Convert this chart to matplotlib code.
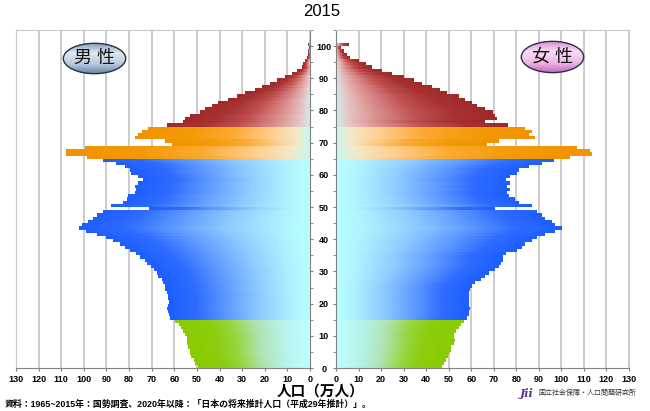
import numpy as np
import matplotlib
matplotlib.use("Agg")
import matplotlib.pyplot as plt
from matplotlib.colors import LinearSegmentedColormap
from matplotlib.patches import Ellipse

plt.rcParams['font.family'] = ['Liberation Sans', 'Noto Sans CJK JP', 'DejaVu Sans']

# =============================================================================
# Data: 2015 population by single year of age (10,000 persons), age 100 = 100+
# =============================================================================
ages = np.arange(0, 101)

male = [49.5, 51.0, 51.5, 52.5, 53.0, 53.0, 54.0, 54.5, 54.5, 54.6,
        55.3, 56.0, 57.0, 58.0, 59.5, 62.0, 62.5, 63.0, 63.4, 63.0,
        62.5, 63.0, 63.0, 63.4, 64.0, 64.0, 65.0, 65.6, 67.0, 67.8,
        69.0, 70.5, 72.0, 73.0, 75.0, 77.0, 79.6, 82.0, 84.0, 87.0,
        90.0, 94.0, 99.0, 102.0, 101.0, 98.0, 96.0, 94.0, 91.5, 71.0,
        88.0, 82.6, 81.0, 80.5, 77.4, 77.0, 77.4, 76.0, 73.7, 76.0,
        79.0, 79.6, 82.0, 86.0, 91.5, 98.8, 107.7, 107.7, 99.6, 61.0,
        64.0, 77.4, 76.0, 74.5, 71.5, 63.4, 56.0, 55.3, 53.0, 48.7,
        46.5, 43.5, 40.6, 36.2, 32.4, 28.8, 24.3, 21.4, 17.7, 14.7,
        11.0, 8.1, 5.9, 3.7, 3.0, 2.2, 1.5, 1.0, 0.8, 0.6,
        0.8]

female = [46.9, 47.6, 48.6, 49.5, 50.1, 50.6, 51.0, 52.0, 52.5, 52.0,
          52.0, 52.8, 54.3, 55.4, 56.5, 58.0, 58.7, 59.0, 59.4, 58.7,
          58.7, 59.0, 58.7, 58.7, 59.4, 60.2, 61.6, 63.9, 66.1, 67.6,
          70.5, 72.0, 73.2, 73.8, 74.0, 75.0, 80.0, 82.3, 83.8, 86.8,
          89.0, 92.7, 97.1, 100.0, 97.0, 95.6, 92.7, 91.2, 89.0, 70.5,
          86.8, 80.9, 79.4, 76.4, 75.7, 77.2, 75.7, 77.2, 75.0, 77.2,
          80.0, 80.9, 85.3, 91.2, 96.4, 103.8, 113.4, 112.6, 106.7, 66.8,
          72.0, 88.0, 85.5, 86.8, 83.8, 76.1, 66.1, 71.3, 70.5, 69.5,
          66.1, 62.4, 60.2, 57.2, 54.3, 49.1, 46.1, 42.4, 38.0, 34.3,
          29.9, 24.7, 20.3, 15.8, 12.9, 9.9, 6.2, 4.7, 3.3, 2.2,
          5.5]

x_ticks = np.arange(0, 131, 10)
age_ticks = np.arange(0, 101, 10)

# gradient fills: inner (age axis) -> outer end of bar
cmaps = {
    'young': LinearSegmentedColormap.from_list('young', [
        (0, '#BFFFFF'), (0.2, '#B8F4EC'), (0.4, '#B0E4B8'), (0.6, '#98D640'),
        (0.75, '#8CCE10'), (1, '#88CC00')]),
    'work': LinearSegmentedColormap.from_list('work', [
        (0, '#B8FFFF'), (0.12, '#B0F4FF'), (0.35, '#90CCFF'), (0.6, '#5C98FF'),
        (0.8, '#2E6CFF'), (1, '#1E5EFF')]),
    'old1': LinearSegmentedColormap.from_list('old1', [
        (0, '#C8F8F0'), (0.08, '#F4E8C8'), (0.22, '#FFD090'), (0.45, '#FBAA30'),
        (0.7, '#F59A08'), (1, '#F39200')]),
    'old2': LinearSegmentedColormap.from_list('old2', [
        (0, '#D0ECEC'), (0.08, '#E8C4C4'), (0.25, '#DC9090'), (0.5, '#C05050'),
        (0.75, '#A83232'), (1, '#A02828')]),
}


def age_group(a):
    if a < 15:
        return 'young'
    if a < 65:
        return 'work'
    if a < 75:
        return 'old1'
    return 'old2'


grad = np.linspace(0, 1, 256).reshape(1, -1)

# =============================================================================
# Figure
# =============================================================================
fig = plt.figure(figsize=(6.5, 4.11), dpi=100)
ax_l = fig.add_axes([16 / 650, 43 / 411, 294 / 650, 338 / 411])
ax_r = fig.add_axes([336 / 650, 43 / 411, 293 / 650, 338 / 411])


def draw_side(ax, values):
    bars = ax.barh(ages, values, height=1.0, align='edge', color='none', edgecolor='none', zorder=1)
    for a, bar in zip(ages, bars):
        x0, y0 = bar.get_x(), bar.get_y()
        w, h = bar.get_width(), bar.get_height()
        im = ax.imshow(grad, cmap=cmaps[age_group(a)], extent=[x0, x0 + w, y0, y0 + h],
                       aspect='auto', interpolation='bilinear', zorder=2)
        im.set_clip_path(bar)


draw_side(ax_l, male)
draw_side(ax_r, female)

grid_c = '#C8C8C8'
axis_c = '#808080'
for ax in (ax_l, ax_r):
    ax.set_ylim(0, 105)
    ax.set_xticks(x_ticks)
    ax.set_xticklabels([str(v) for v in x_ticks], fontsize=6.5, fontweight='bold')
    ax.xaxis.grid(True, color=grid_c, lw=1.3)
    ax.set_axisbelow(True)
    ax.tick_params(axis='x', length=2, pad=3, color=axis_c)
    ax.set_yticks(age_ticks)
    ax.set_yticks(np.arange(5, 106, 10), minor=True)
    ax.tick_params(axis='y', which='both', length=2, direction='out', color=axis_c)
    ax.spines['top'].set_color(grid_c)
    ax.spines['bottom'].set_color(axis_c)

ax_l.set_xlim(130, 0)
ax_r.set_xlim(0, 130)

# age labels sit between the two panels
ax_l.yaxis.tick_right()
ax_l.set_yticklabels([str(v) for v in age_ticks], fontsize=6.5, fontweight='bold', ha='center')
ax_l.tick_params(axis='y', which='major', pad=8)
ax_l.spines['left'].set_color(grid_c)
ax_l.spines['right'].set_color(axis_c)

ax_r.tick_params(axis='y', which='both', labelleft=False)
ax_r.spines['right'].set_color(grid_c)
ax_r.spines['left'].set_color(axis_c)

# =============================================================================
# Text
# =============================================================================
fig.text(322 / 650, 1 - 11 / 411, '2015', ha='center', va='center', fontsize=12)
fig.text(321 / 650, 1 - 392 / 411, '人口（万人）', ha='center', va='center',
         fontsize=10.5, fontweight='bold')
fig.text(5 / 650, 1 - 404 / 411,
         '資料：1965~2015年：国勢調査、2020年以降：「日本の将来推計人口（平成29年推計）」。',
         ha='left', va='center', fontsize=6.4, fontweight='bold')
fig.text(538 / 650, 1 - 393 / 411, '国立社会保障・人口問題研究所', ha='left', va='center',
         fontsize=5, color='#333333')
fig.text(520 / 650, 1 - 393 / 411, 'Jii', ha='left', va='center', fontsize=8,
         color='#5B2C8F', style='italic', fontweight='bold', family='DejaVu Serif')


def badge(rect, colors, label):
    bax = fig.add_axes(rect)
    bax.set_xlim(0, 1)
    bax.set_ylim(0, 1)
    bax.axis('off')
    ell = Ellipse((0.5, 0.5), 0.96, 0.92, facecolor='none', edgecolor='#2A3040', lw=1.0, zorder=3)
    bax.add_patch(ell)
    cm = LinearSegmentedColormap.from_list('b', colors)
    im = bax.imshow(np.linspace(0, 1, 64).reshape(-1, 1), cmap=cm, extent=[0, 1, 0, 1],
                    origin='lower', aspect='auto', zorder=2)
    im.set_clip_path(ell)
    bax.text(0.5, 0.5, label, ha='center', va='center', fontsize=13, color='#111111', zorder=4)


badge([62 / 650, 1 - 75 / 411, 65 / 650, 33 / 411],
      ['#5E7C9E', '#B8CADC', '#E0E8F2', '#7E9AB8'], '男 性')
badge([520 / 650, 1 - 74 / 411, 65 / 650, 34 / 411],
      ['#C060B8', '#EEB6E8', '#FADCF6', '#D688D0'], '女 性')

fig.savefig('out.png', dpi=100)
